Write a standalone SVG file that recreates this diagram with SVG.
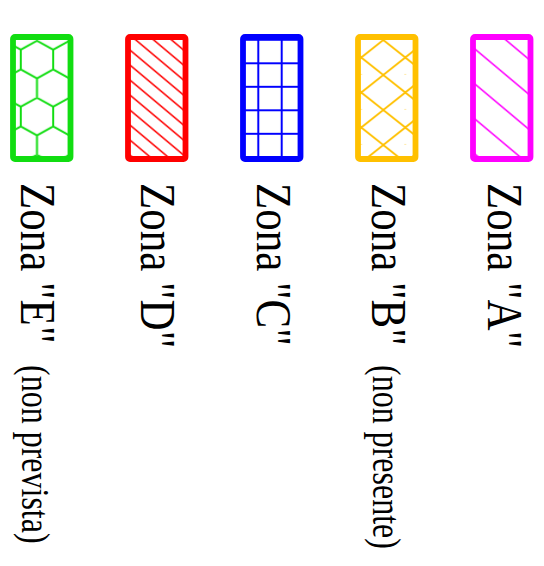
<svg xmlns="http://www.w3.org/2000/svg" width="544" height="566" viewBox="0 0 544 566">
<style>
.frame{fill:#fff;stroke-width:5.8}
.big{font-family:"Liberation Serif","Times New Roman",serif;font-size:43px;fill:#000}
.small{font-family:"Liberation Serif","Times New Roman",serif;font-size:32px;fill:#000}
</style>
<defs>
<pattern id="hex" patternUnits="userSpaceOnUse" x="20.8" y="40.8" width="32.4" height="57">
<path d="M0 9 L16.2 0 L32.4 9 M0 9 V28.5 M32.4 9 V28.5 M0 28.5 L16.2 37.5 L32.4 28.5 M16.2 37.5 V57" fill="none" stroke="#11dd11" stroke-width="2"/>
</pattern>
<pattern id="hatchD" patternUnits="userSpaceOnUse" x="0" y="0" width="100" height="15" patternTransform="skewY(40)">
<line x1="0" y1="7.5" x2="100" y2="7.5" stroke="#ff0000" stroke-width="1.8"/>
</pattern>
<pattern id="grid" patternUnits="userSpaceOnUse" x="16.6" y="51.55" width="23.4" height="23.5">
<path d="M11.7 0 V23.5 M0 11.75 H23.4" fill="none" stroke="#0000ff" stroke-width="2"/>
</pattern>
<pattern id="cross" patternUnits="userSpaceOnUse" x="16.3" y="40" width="44" height="35">
<path d="M0 17.5 L22 0 L44 17.5 L22 35 Z M-22 17.5 L0 35 M44 35 L66 17.5" fill="none" stroke="#ffc000" stroke-width="1.8"/>
</pattern>
<pattern id="hatchA" patternUnits="userSpaceOnUse" x="0" y="19" width="100" height="35" patternTransform="skewY(40)">
<line x1="0" y1="17.5" x2="100" y2="17.5" stroke="#ff00ff" stroke-width="1.8"/>
</pattern>
</defs>
<g id="zonaE">
<rect class="frame" x="13" y="37" width="57.5" height="122" rx="2" style="fill:url(#hex)" stroke="#11dd11"/>
<text class="big" transform="translate(21,183) rotate(90) scale(1,1.18)">Zona "E"</text>
<text class="small" transform="translate(22,365) rotate(90) scale(1,1.22)">(non prevista)</text>
</g>
<g id="zonaD" transform="translate(115,0)">
<rect class="frame" x="13" y="37" width="57.5" height="122" rx="2" style="fill:url(#hatchD)" stroke="#ff0000"/>
<text class="big" transform="translate(26,183) rotate(90) scale(1,1.18)">Zona "D"</text>
</g>
<g id="zonaC" transform="translate(230,0)">
<rect class="frame" x="13" y="37" width="57.5" height="122" rx="2" style="fill:url(#grid)" stroke="#0000ff"/>
<text class="big" transform="translate(27,183) rotate(90) scale(1,1.18)">Zona "C"</text>
</g>
<g id="zonaB" transform="translate(345,0)">
<rect class="frame" x="13" y="37" width="57.5" height="122" rx="2" style="fill:url(#cross)" stroke="#ffc000"/>
<text class="big" transform="translate(27,183) rotate(90) scale(1,1.18)">Zona "B"</text>
<text class="small" transform="translate(28,365) rotate(90) scale(1,1.22)">(non presente)</text>
</g>
<g id="zonaA" transform="translate(460,0)">
<rect class="frame" x="13" y="37" width="57.5" height="122" rx="2" style="fill:url(#hatchA)" stroke="#ff00ff"/>
<text class="big" transform="translate(28,183) rotate(90) scale(1,1.18)">Zona "A"</text>
</g>
<g id="connectors"/>
</svg>
